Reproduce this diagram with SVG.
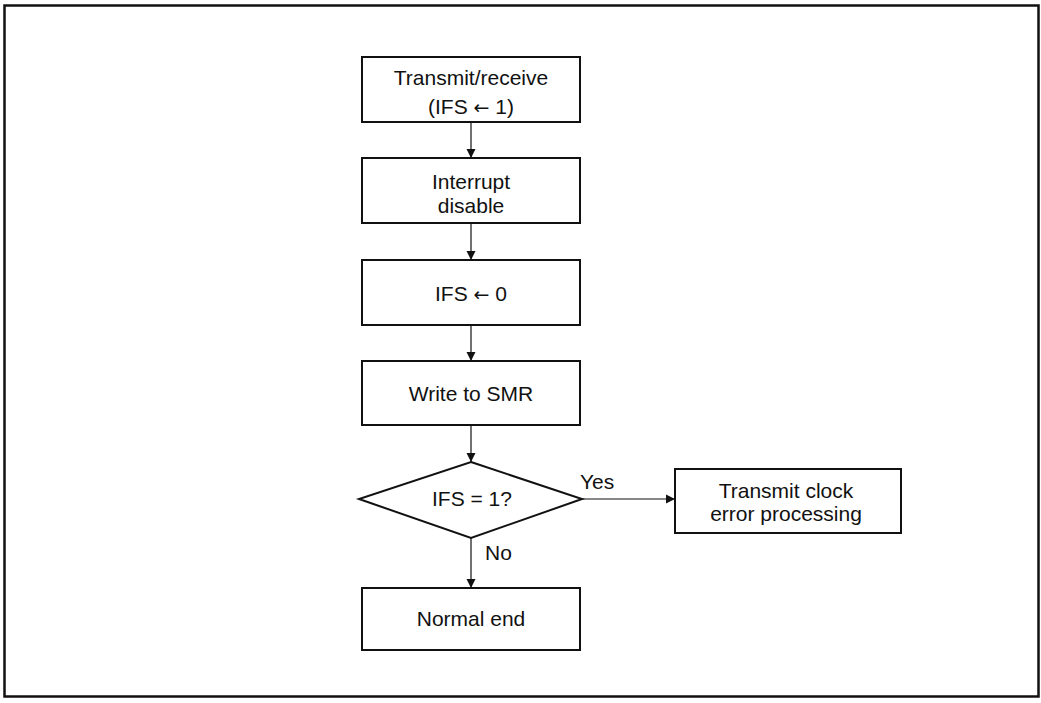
<svg xmlns="http://www.w3.org/2000/svg" width="1041" height="703" viewBox="0 0 1041 703">
<style>
.box{fill:#fff;stroke:#111;stroke-width:2}
.frame{fill:#fff;stroke:#111;stroke-width:2.5}
.t{font-family:"Liberation Sans",Arial,sans-serif;font-size:21px;fill:#111;text-anchor:middle}
.l{font-family:"Liberation Sans",Arial,sans-serif;font-size:21px;fill:#111}
.ar{font-family:"DejaVu Sans",sans-serif;font-size:19px}
.c{stroke:#111;stroke-width:1.2;fill:none;marker-end:url(#ah)}
</style>
<defs>
<marker id="ah" markerWidth="9" markerHeight="13" refX="9" refY="6.5" orient="auto" markerUnits="userSpaceOnUse">
<path d="M0,2 L9,6.5 L0,11 Z" fill="#111"/>
</marker>
</defs>
<rect class="frame" x="4.5" y="5.5" width="1034" height="691"/>
<g id="connectors">
<line class="c" x1="471" y1="122" x2="471" y2="158"/>
<line class="c" x1="471" y1="223" x2="471" y2="260"/>
<line class="c" x1="471" y1="325" x2="471" y2="361"/>
<line class="c" x1="471" y1="425" x2="471" y2="462"/>
<line class="c" x1="582" y1="499" x2="675" y2="499"/>
<line class="c" x1="471" y1="538" x2="471" y2="588"/>
<text class="l" x="580" y="489">Yes</text>
<text class="l" x="485" y="560">No</text>
</g>
<g id="n1">
<rect class="box" x="362" y="57" width="218" height="65"/>
<text class="t" x="471" y="85">Transmit/receive</text>
<text class="t" x="471" y="114">(IFS <tspan class="ar">←</tspan> 1)</text>
</g>
<g id="n2">
<rect class="box" x="362" y="158" width="218" height="65"/>
<text class="t" x="471" y="189">Interrupt</text>
<text class="t" x="471" y="213">disable</text>
</g>
<g id="n3">
<rect class="box" x="362" y="260" width="218" height="65"/>
<text class="t" x="471" y="301">IFS <tspan class="ar">←</tspan> 0</text>
</g>
<g id="n4">
<rect class="box" x="362" y="361" width="218" height="64"/>
<text class="t" x="471" y="401">Write to SMR</text>
</g>
<g id="n5">
<polygon class="box" points="471,462 582,499 471,538 359,499"/>
<text class="t" x="472" y="506">IFS = 1?</text>
</g>
<g id="n6">
<rect class="box" x="675" y="469" width="226" height="64"/>
<text class="t" x="786" y="498">Transmit clock</text>
<text class="t" x="786" y="521">error processing</text>
</g>
<g id="n7">
<rect class="box" x="362" y="588" width="218" height="62"/>
<text class="t" x="471" y="626">Normal end</text>
</g>
</svg>
